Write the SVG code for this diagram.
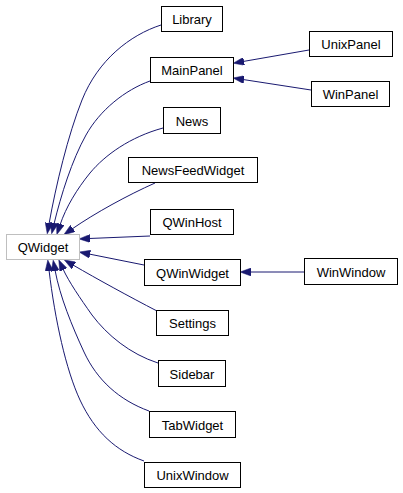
<svg xmlns="http://www.w3.org/2000/svg" width="403" height="493" viewBox="0 0 403 493">
<style>
.n rect{fill:#fff;stroke:#000;stroke-width:1}
.g rect{stroke:#bfbfbf}
text{font-family:"Liberation Sans",Arial,Helvetica,sans-serif;font-size:13px;text-anchor:middle;fill:#000}
.e path{fill:none;stroke:#191970;stroke-width:1;marker-end:url(#ah)}
</style>
<defs>
<marker id="ah" viewBox="0 0 11 8" refX="1" refY="4" markerWidth="11" markerHeight="8" markerUnits="userSpaceOnUse" orient="auto">
<path d="M0,0 L11,4 L0,8 z" fill="#191970" stroke="#191970" stroke-width="0.5"/>
</marker>
</defs>
<rect width="403" height="493" fill="#fff"/>
<g class="e" id="edges">
<path d="M161,25 C130,35 98,60 82,100 C68,135 56,185 49,224"/>
<path d="M150,81 C125,90 100,110 86,135 C72,160 61,195 54,224"/>
<path d="M163,128 C130,137 105,155 90,173 C77,189 66,207 60,225"/>
<path d="M155,183 C128,195 95,213 72,229"/>
<path d="M150,236 L89,238.5"/>
<path d="M144,265 L89,254"/>
<path d="M157,311 C130,297 97,279 73,265"/>
<path d="M158,363 C130,354 107,335 92,315 C80,298 69,282 63,269"/>
<path d="M149,411 C119,400 97,380 84,352 C72,326 60,297 55,270"/>
<path d="M144,461 C116,451 95,432 80,400 C66,370 55,320 49,270"/>
<path d="M309,50 L243,61.5"/>
<path d="M311,90 L243,79.5"/>
<path d="M304,272 L250,272"/>
</g>
<g class="n g" id="QWidget"><rect x="6.5" y="234.5" width="73" height="25"/><text x="43" y="252">QWidget</text></g>
<g class="n" id="Library"><rect x="161.5" y="6.5" width="61" height="25"/><text x="192" y="24">Library</text></g>
<g class="n" id="MainPanel"><rect x="150.5" y="57.5" width="83" height="25"/><text x="192" y="75">MainPanel</text></g>
<g class="n" id="News"><rect x="163.5" y="107.5" width="57" height="26"/><text x="192" y="125.5">News</text></g>
<g class="n" id="NewsFeedWidget"><rect x="128.5" y="157.5" width="129" height="25"/><text x="193" y="175">NewsFeedWidget</text></g>
<g class="n" id="QWinHost"><rect x="150.5" y="209.5" width="83" height="25"/><text x="192" y="227">QWinHost</text></g>
<g class="n" id="QWinWidget"><rect x="144.5" y="259.5" width="96" height="26"/><text x="192.5" y="277.5">QWinWidget</text></g>
<g class="n" id="Settings"><rect x="156.5" y="310.5" width="72" height="25"/><text x="192.5" y="328">Settings</text></g>
<g class="n" id="Sidebar"><rect x="158.5" y="360.5" width="67" height="26"/><text x="192" y="378.5">Sidebar</text></g>
<g class="n" id="TabWidget"><rect x="149.5" y="411.5" width="86" height="26"/><text x="192.5" y="429.5">TabWidget</text></g>
<g class="n" id="UnixWindow"><rect x="144.5" y="462.5" width="96" height="25"/><text x="192.5" y="480">UnixWindow</text></g>
<g class="n" id="UnixPanel"><rect x="309.5" y="31.5" width="83" height="25"/><text x="351" y="49">UnixPanel</text></g>
<g class="n" id="WinPanel"><rect x="311.5" y="81.5" width="78" height="25"/><text x="350.5" y="99">WinPanel</text></g>
<g class="n" id="WinWindow"><rect x="304.5" y="258.5" width="93" height="26"/><text x="351" y="276.5">WinWindow</text></g>
</svg>
